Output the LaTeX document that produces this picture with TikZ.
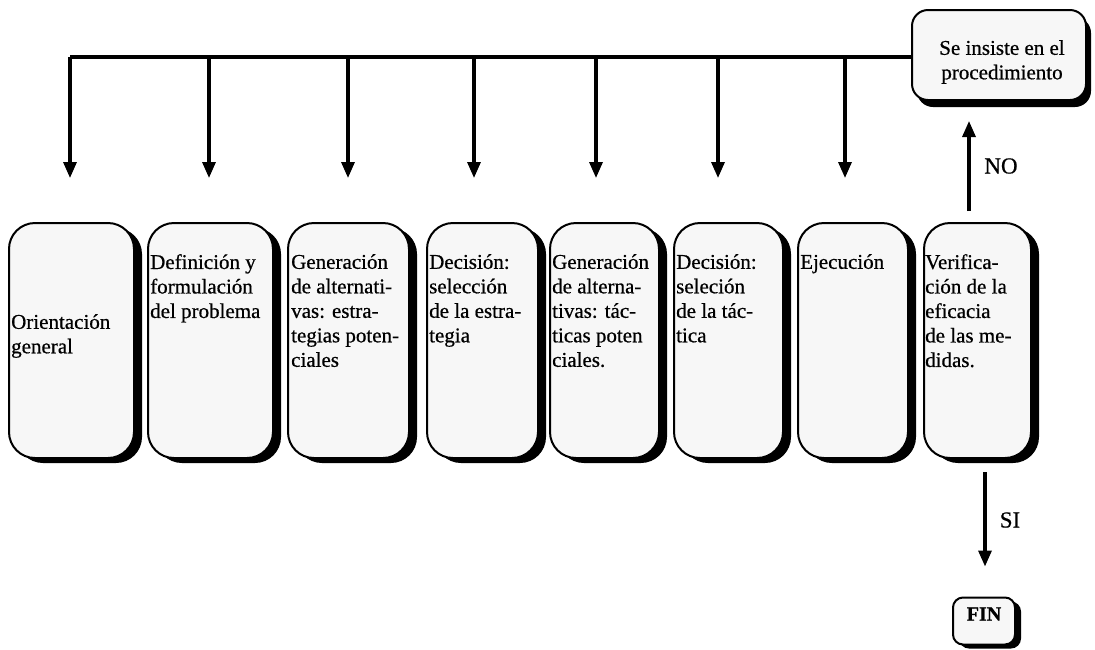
\documentclass[tikz,border=0pt]{standalone}
\usepackage{fontspec}
\setmainfont{Liberation Serif}[FakeBold=0.6]
\usetikzlibrary{arrows.meta,shadows}
\begin{document}
\begin{tikzpicture}[x=1pt,y=-1pt,
  stepbox/.style={draw=black, line width=2pt, rounded corners=26pt, fill=black!3,
    general shadow={fill=black, shadow xshift=8pt, shadow yshift=-5pt},
    inner sep=0pt, minimum height=235pt, anchor=north west},
  boxtext/.style={inner sep=0pt, anchor=north west, align=left, font=\fontsize{21}{24.5}\selectfont},
  flow/.style={line width=3.2pt, -{Triangle[length=16pt,width=13pt]}},
  lbl/.style={font=\fontsize{23}{24}\selectfont, inner sep=0pt}
]
\useasboundingbox (0,0) rectangle (1095,649);

% top box
\node[draw=black, line width=2pt, rounded corners=16pt, fill=black!3,
  general shadow={fill=black, shadow xshift=5pt, shadow yshift=-7pt},
  inner sep=0pt, minimum width=174pt, minimum height=90pt] (se) at (999,55) {};
\node[inner sep=0pt, align=center, font=\fontsize{21}{24.5}\selectfont] (set) at (1002,62) {Se insiste en el\\procedimiento};

% row boxes
\node[stepbox, minimum width=125pt] (b1) at (8,222) {};
\node[stepbox, minimum width=125pt] (b2) at (147,222) {};
\node[stepbox, minimum width=121pt] (b3) at (287,222) {};
\node[stepbox, minimum width=111pt] (b4) at (426,222) {};
\node[stepbox, minimum width=109pt] (b5) at (549,222) {};
\node[stepbox, minimum width=109pt] (b6) at (673,222) {};
\node[stepbox, minimum width=110pt] (b7) at (797,222) {};
\node[stepbox, minimum width=107pt] (b8) at (923,222) {};

\node[boxtext] (t1) at (11,314) {Orientación\\general};
\node[boxtext] (t2) at (150,254) {Definición y\\formulación\\del problema};
\node[boxtext] (t3) at (291,254) {Generación\\de alternati-\\vas: estra-\\tegias poten-\\ciales};
\node[boxtext] (t4) at (429,254) {Decisión:\\selección\\de la estra-\\tegia};
\node[boxtext] (t5) at (552,254) {Generación\\de alterna-\\tivas: tác-\\ticas poten\\ciales.};
\node[boxtext] (t6) at (676,254) {Decisión:\\seleción\\de la tác-\\tica};
\node[boxtext] (t7) at (800,254) {Ejecución};
\node[boxtext] (t8) at (925,254) {Verifica-\\ción de la\\eficacia\\de las me-\\didas.};

% FIN
\node[draw=black, line width=2pt, rounded corners=10pt, fill=black!3,
  general shadow={fill=black, shadow xshift=6pt, shadow yshift=-4pt},
  inner sep=0pt, minimum width=62pt, minimum height=47pt] (fin) at (984,621) {};
\node[inner sep=0pt, font=\fontsize{20}{22}\selectfont\bfseries] (fint) at (984,614) {FIN};

% top distribution line
\coordinate (j1) at (70,57);
\coordinate (j2) at (209,57);
\coordinate (j3) at (348,57);
\coordinate (j4) at (474,57);
\coordinate (j5) at (596,57);
\coordinate (j6) at (718,57);
\coordinate (j7) at (845,57);
\draw[line width=3.2pt] (se.west |- j1) -- (j1);
\foreach \i in {1,...,7}{
  \draw[flow, shorten >=44pt] (j\i) -- (j\i |- b\i.north);
}

% NO arrow
\coordinate (nos) at (969,211);
\draw[flow, shorten >=20pt] (nos) -- (nos |- se.south);
\node[lbl] (no) at (1001,166) {NO};

% SI arrow
\coordinate (sis) at (985,472);
\draw[flow, shorten >=30pt] (sis) -- (sis |- fin.north);
\node[lbl] (si) at (1010,520) {SI};
\end{tikzpicture}
\end{document}
